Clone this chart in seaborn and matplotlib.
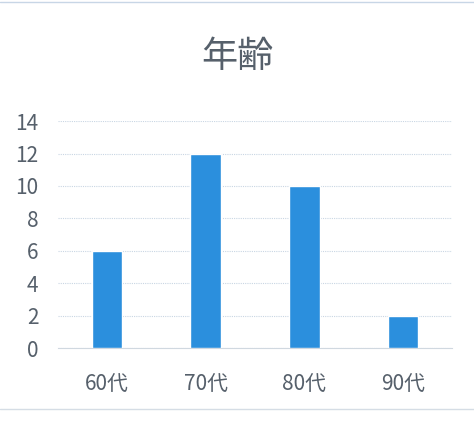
import matplotlib
matplotlib.use('Agg')
import matplotlib.pyplot as plt
import seaborn as sns
import pandas as pd

# data
categories = ['60代', '70代', '80代', '90代']
counts = [6, 12, 10, 2]
title = '年齢'

df = pd.DataFrame({'age': categories, 'n': counts})

sns.set_theme(style='white')
plt.rcParams['font.family'] = ['Noto Sans CJK JP', 'DejaVu Sans']

fig = plt.figure(figsize=(4.74, 4.22), dpi=100)
ax = fig.add_axes([0.122, 0.175, 0.832, 0.538])

sns.barplot(data=df, x='age', y='n', color='#2B8FDD', saturation=1,
            width=0.31, ax=ax, zorder=3)

ax.set_ylim(0, 14)
ax.set_yticks(range(0, 15, 2))
ax.grid(axis='y', color='#c9d6e3', linewidth=0.8, linestyle=(0, (1, 1)), zorder=0)
for s in ['top', 'right', 'left']:
    ax.spines[s].set_visible(False)
ax.spines['bottom'].set_color('#d0d8e0')
ax.spines['bottom'].set_linewidth(0.8)
ax.set_xlabel('')
ax.set_ylabel('')
ax.tick_params(axis='both', colors='#56606b', labelsize=15, length=0)
ax.tick_params(axis='x', pad=18)
ax.tick_params(axis='y', pad=14)

fig.text(0.5, 0.865, title, ha='center', va='center', fontsize=26, color='#56606b')

# faint scan edges
fig.add_artist(plt.Line2D([0, 1], [0.995, 0.995], color='#c8d6e6', lw=1))
fig.add_artist(plt.Line2D([0, 1], [0.03, 0.03], color='#d5dde5', lw=1))

fig.savefig('out.png', dpi=100, facecolor='white')
